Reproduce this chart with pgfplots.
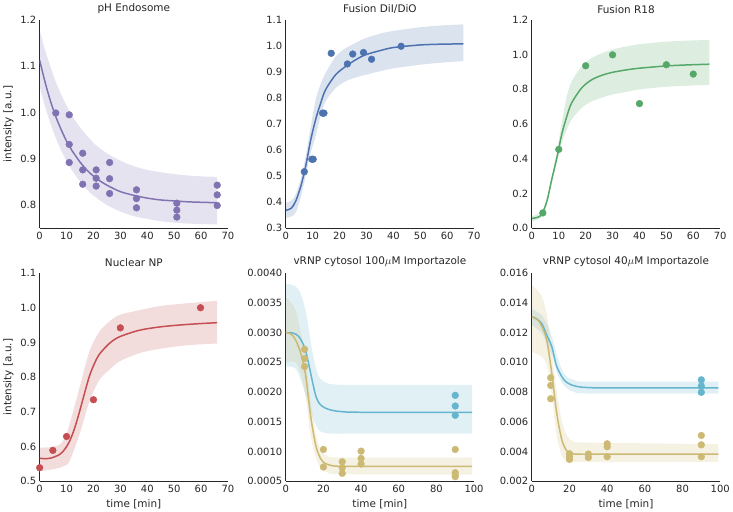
\documentclass[border=0pt]{standalone}
\usepackage{fontspec}
\setmainfont{DejaVu Sans}
\usepackage{pgfplots}
\pgfplotsset{compat=1.18}
\usepgfplotslibrary{groupplots,fillbetween}
\definecolor{sbpurple}{HTML}{8172B2}
\definecolor{sbblue}{HTML}{4C72B0}
\definecolor{sbgreen}{HTML}{55A868}
\definecolor{sbred}{HTML}{C44E52}
\definecolor{sbgold}{HTML}{CCB974}
\definecolor{sbcyan}{HTML}{64B5CD}
\definecolor{axisgray}{HTML}{262626}
\pgfplotsset{
  band/.style={draw=none, fill=#1, fill opacity=0.2},
  fit/.style={color=#1, smooth, line width=1.5pt, no marks},
  pts/.style={only marks, color=#1, line width=0.4pt, mark=*, mark size=3.4pt, mark options={solid, draw=#1, fill=#1}},
}
\begin{document}
\begin{tikzpicture}
\begin{groupplot}[
    group style={group size=3 by 2, horizontal sep=58pt, vertical sep=45pt},
    scale only axis, width=189pt, height=209pt,
    axis x line*=bottom, axis y line*=left,
    axis line style={draw=axisgray, line width=1.25pt},
    major tick length=0pt,
    tick label style={font=\fontsize{10}{11}\selectfont, text=axisgray},
    label style={font=\fontsize{10.5}{12}\selectfont, text=axisgray},
    title style={font=\fontsize{10.5}{12}\selectfont, text=axisgray, yshift=-3pt},
    /pgf/number format/assume math mode=true,
    scaled ticks=false,
    yticklabel style={/pgf/number format/.cd, fixed, fixed zerofill, precision=1},
    xticklabel style={/pgf/number format/.cd, fixed},
    xmin=0, xmax=70, xtick={0,10,20,30,40,50,60,70},
  ]

% pH Endosome
\nextgroupplot[title={pH Endosome}, ylabel={intensity [a.u.]},
  ymin=0.75, ymax=1.2, ytick={0.8,0.9,1.0,1.1,1.2}]
\addplot[draw=none, smooth, name path=au] coordinates {
  (0,1.178)(2,1.135)(4,1.099)(6,1.066)(8,1.039)(10,1.015)(12,0.994)(15,0.968)(18,0.947)(21,0.929)
  (25,0.912)(30,0.896)(35,0.884)(40,0.876)(45,0.871)(50,0.867)(55,0.864)(60,0.862)(66,0.861)};
\addplot[draw=none, smooth, name path=al] coordinates {
  (0,1.056)(2,1.013)(4,0.977)(6,0.945)(8,0.918)(10,0.895)(12,0.875)(15,0.851)(18,0.831)(21,0.816)
  (25,0.800)(30,0.786)(35,0.776)(40,0.770)(45,0.765)(50,0.762)(55,0.760)(60,0.759)(66,0.758)};
\addplot[band=sbpurple] fill between[of=au and al];
\addplot[fit=sbpurple] coordinates {
  (0,1.113)(2,1.066)(4,1.025)(6,0.991)(8,0.963)(10,0.938)(12,0.918)(15,0.893)(18,0.873)(21,0.858)
  (25,0.843)(30,0.829)(35,0.821)(40,0.815)(45,0.811)(50,0.809)(55,0.807)(60,0.806)(66,0.805)};
\addplot[pts=sbpurple] coordinates {
  (6,0.999)(11,0.995)(11,0.931)(11,0.892)(16,0.912)(16,0.876)(16,0.845)
  (21,0.876)(21,0.858)(21,0.841)(26,0.892)(26,0.857)(26,0.825)
  (36,0.833)(36,0.814)(36,0.794)(51,0.804)(51,0.789)(51,0.774)
  (66,0.843)(66,0.822)(66,0.799)};

% Fusion DiI/DiO
\nextgroupplot[title={Fusion DiI/DiO},
  ymin=0.3, ymax=1.1, ytick={0.3,0.4,0.5,0.6,0.7,0.8,0.9,1.0,1.1}]
\addplot[draw=none, smooth, name path=bu] coordinates {
  (0,0.398)(2,0.405)(3.7,0.43)(5.6,0.49)(7.4,0.576)(9.3,0.69)(11.1,0.793)(13,0.855)(14.8,0.896)
  (18.5,0.959)(22.2,0.991)(26,1.012)(29.6,1.03)(35,1.047)(40,1.058)(50,1.072)(58,1.079)(66,1.083)};
\addplot[draw=none, smooth, name path=bl] coordinates {
  (0,0.34)(2,0.345)(3.7,0.36)(5.6,0.42)(7.4,0.50)(9.3,0.59)(11.1,0.653)(13,0.733)(14.8,0.787)
  (18.5,0.838)(22.2,0.864)(26,0.879)(29.6,0.889)(35,0.903)(40,0.914)(50,0.928)(58,0.936)(66,0.942)};
\addplot[band=sbblue] fill between[of=bu and bl];
\addplot[fit=sbblue] coordinates {
  (0,0.369)(2,0.376)(3.7,0.404)(5.6,0.461)(7.4,0.538)(9.3,0.640)(11.1,0.717)(13,0.781)(14.8,0.832)
  (18.5,0.889)(22.2,0.921)(26,0.947)(29.6,0.966)(35,0.982)(40,0.994)(50,1.004)(58,1.007)(66,1.008)};
\addplot[pts=sbblue] coordinates {
  (6.9,0.517)(9.7,0.565)(10.2,0.565)(13.7,0.742)(14.2,0.742)(16.9,0.972)
  (22.9,0.931)(24.9,0.969)(28.9,0.975)(31.9,0.949)(42.9,0.999)};

% Fusion R18
\nextgroupplot[title={Fusion R18},
  ymin=0, ymax=1.2, ytick={0,0.2,0.4,0.6,0.8,1.0,1.2}]
\addplot[draw=none, smooth, name path=cu] coordinates {
  (0,0.07)(3.7,0.095)(5.6,0.175)(7.4,0.30)(9.3,0.44)(11.1,0.607)(13,0.76)(14.8,0.846)(18.5,0.932)
  (22.2,0.98)(26,1.008)(29.6,1.028)(35,1.047)(40,1.06)(50,1.075)(58,1.081)(66,1.085)};
\addplot[draw=none, smooth, name path=cl] coordinates {
  (0,0.04)(3.7,0.065)(5.6,0.14)(7.4,0.26)(9.3,0.38)(11.1,0.492)(13,0.568)(14.8,0.626)(18.5,0.693)
  (22.2,0.731)(26,0.752)(29.6,0.769)(35,0.785)(40,0.80)(50,0.815)(58,0.821)(66,0.826)};
\addplot[band=sbgreen] fill between[of=cu and cl];
\addplot[fit=sbgreen] coordinates {
  (0,0.056)(2,0.062)(3.7,0.080)(5.6,0.157)(7.4,0.281)(9.3,0.406)(11.1,0.54)(13,0.645)(14.8,0.722)
  (18.5,0.808)(22.2,0.855)(26,0.881)(29.6,0.897)(35,0.912)(40,0.922)(50,0.935)(58,0.941)(66,0.945)};
\addplot[pts=sbgreen] coordinates {
  (4.07,0.088)(10,0.454)(20,0.936)(30,0.999)(40,0.718)(50,0.942)(60,0.888)};

% Nuclear NP
\nextgroupplot[title={Nuclear NP}, ylabel={intensity [a.u.]}, xlabel={time [min]},
  ymin=0.5, ymax=1.1, ytick={0.5,0.6,0.7,0.8,0.9,1.0,1.1}]
\addplot[draw=none, smooth, name path=du] coordinates {
  (0,0.597)(3.7,0.598)(7.4,0.605)(9.3,0.625)(11.1,0.663)(14.8,0.769)(18.5,0.874)(22.2,0.931)
  (25.9,0.96)(29.6,0.979)(37,0.993)(45,1.005)(55,1.013)(66,1.02)};
\addplot[draw=none, smooth, name path=dl] coordinates {
  (0,0.53)(3.7,0.533)(7.4,0.539)(9.3,0.545)(11.1,0.558)(14.8,0.635)(18.5,0.73)(22.2,0.792)
  (25.9,0.821)(29.6,0.845)(37,0.869)(45,0.882)(55,0.892)(66,0.897)};
\addplot[band=sbred] fill between[of=du and dl];
\addplot[fit=sbred] coordinates {
  (0,0.566)(3.7,0.566)(7.4,0.577)(9.3,0.592)(11.1,0.615)(13,0.653)(14.8,0.70)(16.7,0.754)
  (18.5,0.803)(20.4,0.84)(22.2,0.866)(25.9,0.897)(29.6,0.916)(37,0.935)(45,0.945)(55,0.952)(66,0.957)};
\addplot[pts=sbred] coordinates {
  (0,0.539)(4.9,0.589)(10,0.629)(20,0.735)(30,0.942)(59.8,1.0)};

% vRNP cytosol 100 uM
\nextgroupplot[title={vRNP cytosol 100$\mu$M Importazole}, xlabel={time [min]},
  xmin=0, xmax=100, xtick={0,20,40,60,80,100},
  ymin=0.0005, ymax=0.004,
  ytick={0.0005,0.001,0.0015,0.002,0.0025,0.003,0.0035,0.004},
  yticklabel style={/pgf/number format/precision=4}]
\addplot[draw=none, smooth, name path=eu] coordinates {
  (0,0.00382)(5,0.00378)(8,0.00365)(11,0.0033)(14,0.0027)(17,0.0023)(20,0.00218)(25,0.00213)(40,0.00212)(99,0.00212)};
\addplot[draw=none, smooth, name path=el] coordinates {
  (0,0.00243)(5,0.0024)(8,0.0022)(11,0.0019)(14,0.0016)(17,0.00138)(20,0.00132)(25,0.0013)(40,0.0013)(99,0.0013)};
\addplot[band=sbcyan] fill between[of=eu and el];
\addplot[draw=none, smooth, name path=fu] coordinates {
  (0,0.0036)(5,0.0034)(8,0.0030)(10.6,0.0026)(13,0.0019)(16,0.0013)(19,0.0010)(22,0.00093)(30,0.0009)(99,0.0009)};
\addplot[draw=none, smooth, name path=fl] coordinates {
  (0,0.0025)(5,0.0025)(8,0.0023)(10.6,0.0019)(13,0.0013)(16,0.0009)(19,0.0007)(22,0.00065)(30,0.00062)(99,0.00061)};
\addplot[band=sbgold] fill between[of=fu and fl];
\addplot[fit=sbcyan] coordinates {
  (0,0.0030)(4,0.00299)(7,0.00293)(10,0.00275)(12,0.0025)(14,0.0022)(16,0.00193)(18,0.0018)
  (21,0.00173)(25,0.00169)(30,0.00167)(40,0.00166)(99,0.00166)};
\addplot[fit=sbgold] coordinates {
  (0,0.0030)(3,0.00297)(5.3,0.00287)(8,0.00265)(10.6,0.00227)(13.2,0.0016)(15.9,0.00111)
  (18.5,0.00088)(21,0.0008)(25,0.00076)(30,0.00075)(40,0.00075)(99,0.00075)};
\addplot[pts=sbcyan] coordinates {(90,0.001944)(90,0.001765)(90,0.001609)};
\addplot[pts=sbgold] coordinates {
  (10,0.002718)(10,0.002563)(10,0.002429)(20,0.001035)(20,0.00074)
  (30,0.000829)(30,0.000729)(30,0.000634)(40,0.001007)(40,0.000885)(40,0.00079)
  (90,0.001035)(90,0.000645)(90,0.0006)(90,0.000578)};

% vRNP cytosol 40 uM
\nextgroupplot[title={vRNP cytosol 40$\mu$M Importazole}, xlabel={time [min]},
  xmin=0, xmax=100, xtick={0,20,40,60,80,100},
  ymin=0.002, ymax=0.016,
  ytick={0.002,0.004,0.006,0.008,0.010,0.012,0.014,0.016},
  yticklabel style={/pgf/number format/precision=3}]
\addplot[draw=none, smooth, name path=gu] coordinates {
  (0,0.0136)(5,0.0132)(8,0.0126)(11,0.0116)(13,0.0106)(16,0.0095)(19,0.0090)(23,0.0088)(30,0.0087)(99,0.0087)};
\addplot[draw=none, smooth, name path=gl] coordinates {
  (0,0.0125)(5,0.0120)(8,0.0112)(11,0.0104)(13,0.0094)(16,0.0086)(19,0.0082)(23,0.0080)(30,0.0079)(99,0.0079)};
\addplot[band=sbcyan] fill between[of=gu and gl];
\addplot[draw=none, smooth, name path=hu] coordinates {
  (0,0.0152)(5,0.0145)(8,0.0132)(10.6,0.0108)(13,0.0082)(16,0.0060)(19,0.0050)(22,0.0047)(30,0.0046)(99,0.0045)};
\addplot[draw=none, smooth, name path=hl] coordinates {
  (0,0.0107)(5,0.0104)(8,0.0098)(10.6,0.0078)(13,0.0052)(16,0.0037)(19,0.0034)(22,0.0033)(99,0.0033)};
\addplot[band=sbgold] fill between[of=hu and hl];
\addplot[fit=sbcyan] coordinates {
  (0,0.01306)(2.6,0.0129)(5.3,0.0126)(8,0.0118)(10.6,0.01105)(13,0.0098)(15.9,0.00904)(18,0.0087)
  (21,0.00848)(25,0.00835)(30,0.0083)(40,0.00828)(99,0.00828)};
\addplot[fit=sbgold] coordinates {
  (0,0.01306)(3,0.0129)(5.3,0.0124)(7.9,0.0115)(10.6,0.00926)(13.2,0.00659)(15.9,0.0048)
  (18.5,0.00405)(21,0.00387)(25,0.00382)(40,0.00382)(99,0.00382)};
\addplot[pts=sbcyan] coordinates {(90,0.00882)(90,0.0084)(90,0.00798)};
\addplot[pts=sbgold] coordinates {
  (10,0.00896)(10,0.00844)(10,0.00755)(20,0.00385)(20,0.00365)(20,0.00347)
  (30,0.00383)(30,0.0036)(40,0.00452)(40,0.00432)(40,0.00365)
  (90,0.00508)(90,0.00445)(90,0.00365)};
\end{groupplot}
\end{tikzpicture}
\end{document}
